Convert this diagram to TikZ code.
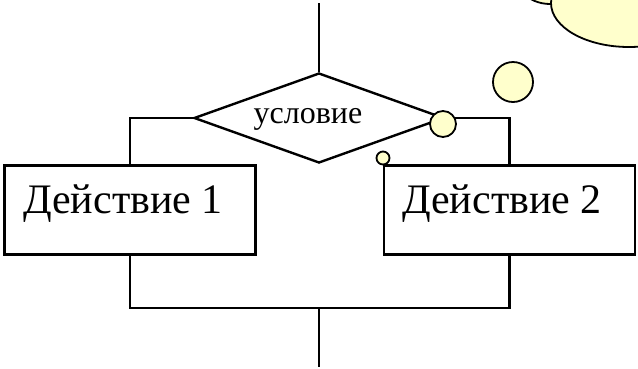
\documentclass[tikz,border=0pt]{standalone}
\usepackage{fontspec}
\setmainfont{Liberation Serif}
\usetikzlibrary{shapes.geometric}
\usepackage{xcolor}
\definecolor{colorffffcc}{HTML}{FFFFCC}

\begin{document}
\begin{tikzpicture}
    [x=1pt, y=-1pt,
     line width=2.4pt,
     action/.style={draw, line width=2.8pt, minimum width=251pt, minimum height=89pt, inner sep=0pt},
     actiontext/.style={anchor=base west, inner sep=0pt, font=\fontsize{42}{48}\selectfont},
     bubble/.style={circle, draw, fill=colorffffcc, line width=1.8pt, inner sep=0pt},
    ]
\useasboundingbox (0,0) rectangle (638,368);

% cloud in the corner
\filldraw[fill=colorffffcc, line width=1.8pt] (550,-36) circle[radius=40pt];
\filldraw[fill=colorffffcc, line width=1.8pt] (629,3) ellipse[x radius=78pt, y radius=44pt];

\node[diamond, draw, aspect=2.75, minimum width=250pt, minimum height=90pt, inner sep=0pt] (cond) at (319,118) {};
\node[anchor=base, inner sep=0pt, font=\fontsize{32}{36}\selectfont] (cond_text) at (308,123) {условие};
\node[action] (act1) at (130,210) {};
\node[action] (act2) at (509.5,210) {};
\node[actiontext] (act1_text) at (22,213) {Действие 1};
\node[actiontext] (act2_text) at (401,213) {Действие 2};

\coordinate (entry) at (319,3);
\coordinate (merge) at (319,308);
\coordinate (exit) at (319,367);

\draw (entry) -- (cond.north);
\draw (cond.west) -| (act1.north);
\draw (cond.east) -| (act2.north);
\draw (act1.south) |- (merge) -| (act2.south);
\draw (merge) -- (exit);

% bubbles
\node[bubble, minimum size=40pt] (bubble_big) at (513,82) {};
\node[bubble, minimum size=26pt] (bubble_mid) at (443,124) {};
\node[bubble, minimum size=13pt] (bubble_small) at (383,158) {};

\end{tikzpicture}
\end{document}
